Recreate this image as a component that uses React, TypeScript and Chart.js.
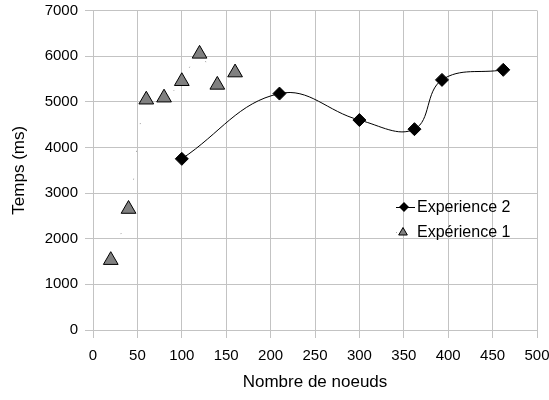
import React, { useEffect, useRef } from 'react';
import { Chart, registerables } from 'chart.js';

Chart.register(...registerables);

// ---- data ----
const exp2Label = 'Experience 2';
const exp2X = [100, 210, 300, 362, 393, 462];
const exp2Y = [3750, 5180, 4600, 4400, 5480, 5700];

const exp1Label = 'Expérience 1';
const exp1X = [20, 40, 60, 80, 100, 120, 140, 160];
const exp1Y = [1530, 2650, 5045, 5090, 5450, 6050, 5370, 5640];

const xMin = 0;
const xMax = 500;
const xStep = 50;
const yMin = 0;
const yMax = 7000;
const yStep = 1000;

const xTitle = 'Nombre de noeuds';
const yTitle = 'Temps (ms)';

const FONT = "'Liberation Sans', Arial, sans-serif";
const GRID = '#c3c3c3';

const drawTriangle = (ctx: CanvasRenderingContext2D, x: number, y: number, r: number) => {
  ctx.beginPath();
  for (let i = 0; i < 3; i++) {
    const a = (i * 2 * Math.PI) / 3;
    const px = x + Math.sin(a) * r;
    const py = y - Math.cos(a) * r;
    if (i === 0) ctx.moveTo(px, py);
    else ctx.lineTo(px, py);
  }
  ctx.closePath();
};

const inlineLegend = {
  id: 'inlineLegend',
  afterDraw(chart: any) {
    const ctx: CanvasRenderingContext2D = chart.ctx;
    ctx.save();
    ctx.font = `16px ${FONT}`;
    ctx.textBaseline = 'middle';
    ctx.textAlign = 'left';
    ctx.fillStyle = '#000';

    // entry 1 : Experience 2
    const y1 = 207;
    ctx.strokeStyle = '#000';
    ctx.lineWidth = 1;
    ctx.beginPath();
    ctx.moveTo(396, y1 + 0.5);
    ctx.lineTo(415, y1 + 0.5);
    ctx.stroke();
    ctx.beginPath();
    ctx.moveTo(404, y1 - 5);
    ctx.lineTo(409, y1);
    ctx.lineTo(404, y1 + 5);
    ctx.lineTo(399, y1);
    ctx.closePath();
    ctx.fill();
    ctx.fillText(exp2Label, 417, y1 + 1);

    // entry 2 : Expérience 1
    const y2 = 232;
    ctx.fillStyle = '#aaa';
    ctx.fillRect(396, y2, 1, 1);
    ctx.fillStyle = '#808080';
    drawTriangle(ctx, 403, y2 + 0.5, 5);
    ctx.fill();
    ctx.strokeStyle = '#000';
    ctx.stroke();
    ctx.fillStyle = '#000';
    ctx.fillText(exp1Label, 417, y2 + 1);
    ctx.restore();
  },
};

export default function App() {
  const ref = useRef<HTMLCanvasElement | null>(null);

  useEffect(() => {
    if (!ref.current) return;
    Chart.defaults.font.family = FONT;
    Chart.defaults.color = '#000';
    const chart = new Chart(ref.current, {
      type: 'scatter',
      data: {
        datasets: [
          {
            label: exp2Label,
            data: exp2X.map((x, i) => ({ x, y: exp2Y[i] })),
            showLine: true,
            borderColor: '#000',
            borderWidth: 1,
            tension: 0.4,
            pointStyle: 'rectRot',
            pointRadius: 6.5,
            pointBackgroundColor: '#000',
            pointBorderColor: '#000',
            pointBorderWidth: 1,
          },
          {
            label: exp1Label,
            data: exp1X.map((x, i) => ({ x, y: exp1Y[i] })),
            showLine: true,
            borderColor: '#9a9a9a',
            borderWidth: 1,
            borderDash: [1, 27],
            tension: 0.4,
            pointStyle: 'triangle',
            pointRadius: 8.5,
            pointBackgroundColor: '#808080',
            pointBorderColor: '#000',
            pointBorderWidth: 1,
          },
        ],
      },
      options: {
        responsive: false,
        animation: false,
        devicePixelRatio: 1,
        layout: { padding: { top: 10.5, right: 12, bottom: 0, left: 0 } },
        plugins: {
          legend: { display: false },
          tooltip: { enabled: false },
        },
        scales: {
          x: {
            type: 'linear',
            min: xMin,
            max: xMax,
            ticks: {
              stepSize: xStep,
              font: { size: 15 },
              color: '#000',
              padding: 9,
              callback: (v: any) => String(v),
            },
            grid: { color: GRID, tickLength: 8, lineWidth: 1 },
            border: { color: GRID },
            title: {
              display: true,
              text: xTitle,
              font: { size: 17 },
              color: '#000',
              padding: { top: 0, bottom: 7 },
            },
            afterFit: (s: any) => {
              s.height = 70;
              s.paddingLeft = 0;
              s.paddingRight = 0;
            },
          },
          y: {
            type: 'linear',
            min: yMin,
            max: yMax,
            ticks: {
              stepSize: yStep,
              font: { size: 15 },
              color: '#000',
              padding: 7,
              callback: (v: any) => String(v),
            },
            grid: { color: GRID, tickLength: 8, lineWidth: 1 },
            border: { color: GRID },
            title: {
              display: true,
              text: yTitle,
              font: { size: 17 },
              color: '#000',
              padding: { top: 9, bottom: 9 },
            },
            afterFit: (s: any) => {
              s.width = 93;
              s.paddingTop = 0;
              s.paddingBottom = 0;
            },
          },
        },
      },
      plugins: [inlineLegend],
    });
    return () => chart.destroy();
  }, []);

  return (
    <div style={{ position: 'absolute', left: 0, top: 0, width: 549, height: 400, background: '#fff' }}>
      <canvas ref={ref} width={549} height={400} />
    </div>
  );
}
